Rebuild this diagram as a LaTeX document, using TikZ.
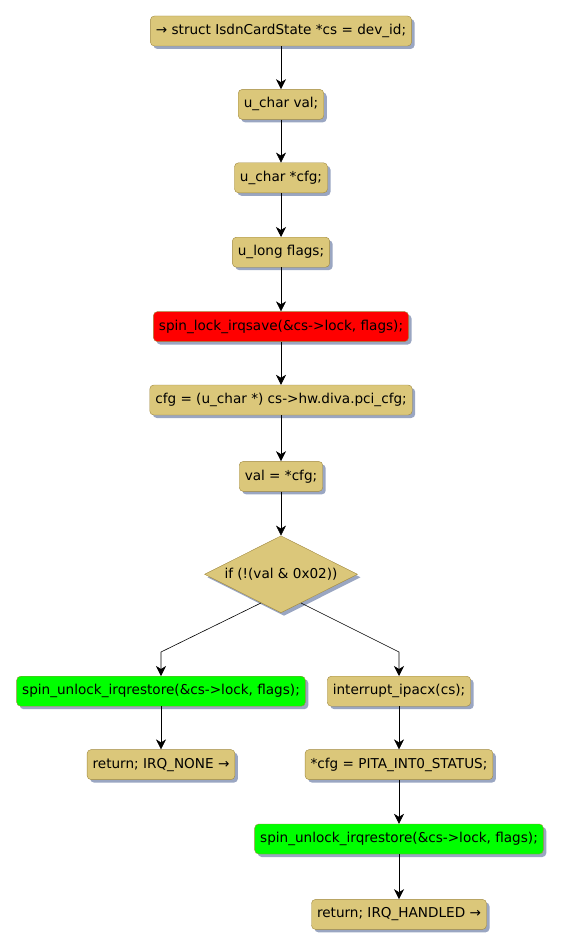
\documentclass[tikz,border=0pt]{standalone}
\usepackage{fontspec}
\setmainfont{DejaVu Sans}
\usetikzlibrary{positioning,shapes.geometric,arrows.meta,shadows,calc}
\definecolor{stepfill}{RGB}{219,199,122}
\definecolor{stepline}{RGB}{160,137,63}
\definecolor{shadowc}{RGB}{154,166,194}
\tikzset{act node/.style={rectangle,rounded corners=4pt,draw=stepline,fill=stepfill,
  minimum height=30pt,inner xsep=5.5pt,inner ysep=0pt,
  font=\fontsize{13.6}{16}\selectfont,
  drop shadow={shadow xshift=3pt,shadow yshift=-3pt,fill=shadowc,opacity=1}},
  red node/.style={act node,fill=red},
  green node/.style={act node,fill=green},
  if node/.style={diamond,draw=stepline,fill=stepfill,minimum width=153pt,
  minimum height=77pt,inner sep=0pt,
  drop shadow={shadow xshift=3pt,shadow yshift=-3pt,fill=shadowc,opacity=1}},
  flow/.style={-{Stealth[length=10pt,width=10pt,inset=3pt]},semithick}}

\begin{document}
\begin{tikzpicture}[x=1pt,y=-1pt]
\useasboundingbox (0,0) rectangle (563,944);
\node[act node] (0) at (281,31) {→ struct IsdnCardState *cs = dev\_id;};
\node[act node] (1) [below=43pt of 0] {u\_char val;};
\node[act node] (2) [below=43pt of 1] {u\_char *cfg;};
\node[act node] (3) [below=44pt of 2] {u\_long flags;};
\node[red node] (4) [below=44pt of 3] {spin\_lock\_irqsave(\&cs->lock, flags);};
\node[act node] (5) [below=43pt of 4] {cfg = (u\_char *) cs->hw.diva.pci\_cfg;};
\node[act node] (6) [below=46pt of 5] {val = *cfg;};
\node[if node] (7) [below=44pt of 6] {};
\node[font=\fontsize{13.6}{16}\selectfont] (7t) at (7.center) {if (!(val \& 0x02))};
\node[green node] (8) [below=63pt of 7.south,xshift=-120pt] {spin\_unlock\_irqrestore(\&cs->lock, flags);};
\node[act node] (9) [below=43pt of 8] {return; IRQ\_NONE →};
\node[act node] (10) [below=63pt of 7.south,xshift=118pt] {interrupt\_ipacx(cs);};
\node[act node] (11) [below=43pt of 10] {*cfg = PITA\_INT0\_STATUS;};
\node[green node] (12) [below=44pt of 11] {spin\_unlock\_irqrestore(\&cs->lock, flags);};
\node[act node] (13) [below=45pt of 12] {return; IRQ\_HANDLED →};

\path[draw,flow] (0)--(1);
\path[draw,flow] (1)--(2);
\path[draw,flow] (2)--(3);
\path[draw,flow] (3)--(4);
\path[draw,flow] (4)--(5);
\path[draw,flow] (5)--(6);
\path[draw,flow] (6)--(7);
\path[draw,flow] ($(7.south)!0.26!(7.west)$)--([yshift=24pt]8.north)--(8.north);
\path[draw,flow] ($(7.south)!0.26!(7.east)$)--([yshift=24pt]10.north)--(10.north);
\path[draw,flow] (8)--(9);
\path[draw,flow] (10)--(11);
\path[draw,flow] (11)--(12);
\path[draw,flow] (12)--(13);
\end{tikzpicture}
\end{document}
